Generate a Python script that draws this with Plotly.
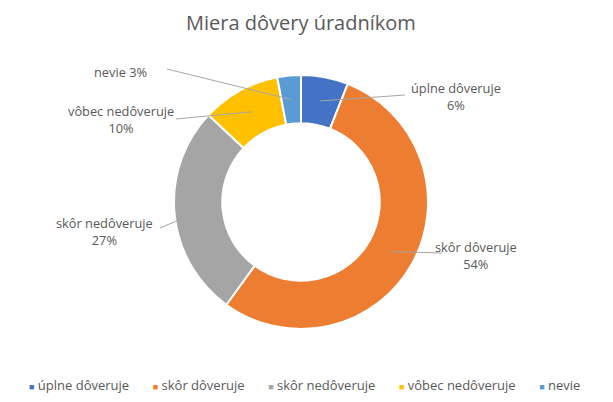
import math
import plotly.graph_objects as go

# ---- data ----
categories = ["úplne dôveruje", "skôr dôveruje", "skôr nedôveruje", "vôbec nedôveruje", "nevie"]
values = [6, 54, 27, 10, 3]
colors = ["#4472C4", "#ED7D31", "#A5A5A5", "#FFC000", "#5B9BD5"]
title_text = "Miera dôvery úradníkom"

# ---- layout constants (screen pixels; page body has an 8px margin) ----
OFF = 8
W, H = 613 - 2 * OFF, 402 - 2 * OFF
CX, CY, R_OUT = 301, 202, 127
HOLE = 0.62
R_MID = R_OUT * (1 + HOLE) / 2
FONT = "Open Sans, Calibri, sans-serif"
TXT = "#595959"
LINE = "#A6A6A6"
# label text centre (px) and leader-line start point (px), per category
label_pos = [(456, 96), (476, 255), (104, 232), (121, 120), (120, 72)]
label_anchor = [(405, 95), (442, 253), (160, 228), (176, 119), (167, 69)]
label_single_line = [False, False, False, False, True]


def px(x):
    return (x - OFF) / W


def py(y):
    return 1 - (y - OFF) / H


fig = go.Figure(
    go.Pie(
        labels=categories,
        values=values,
        hole=HOLE,
        sort=False,
        direction="clockwise",
        rotation=0,
        textinfo="none",
        hoverinfo="label+percent",
        marker=dict(colors=colors, line=dict(color="white", width=2)),
        domain=dict(
            x=[px(CX - R_OUT), px(CX + R_OUT)],
            y=[py(CY + R_OUT), py(CY - R_OUT)],
        ),
        showlegend=False,
    )
)

total = sum(values)
annotations = []
shapes = []
cum = 0
for i, (cat, v) in enumerate(zip(categories, values)):
    theta = 2 * math.pi * (cum + v / 2) / total
    cum += v
    ax_px = CX + R_MID * math.sin(theta)
    ay_px = CY - R_MID * math.cos(theta)
    sx, sy = label_anchor[i]
    shapes.append(
        dict(
            type="line", xref="paper", yref="paper",
            x0=px(sx), y0=py(sy), x1=px(ax_px), y1=py(ay_px),
            line=dict(color=LINE, width=1),
        )
    )
    pct = f"{round(100 * v / total)}%"
    text = f"{cat} {pct}" if label_single_line[i] else f"{cat}<br>{pct}"
    lx, ly = label_pos[i]
    annotations.append(
        dict(
            x=px(lx), y=py(ly), xref="paper", yref="paper",
            text=text, showarrow=False, xanchor="center", yanchor="middle",
            align="center", font=dict(family=FONT, size=12.8, color=TXT),
        )
    )

# custom legend (small square markers as in the original)
gap = "\u00a0" * 7
legend_text = gap.join(
    f"<span style='color:{c};font-size:9px'>■</span>\u00a0{cat}" for cat, c in zip(categories, colors)
)
annotations.append(
    dict(
        x=px(304), y=py(385), xref="paper", yref="paper", text=legend_text,
        showarrow=False, xanchor="center", yanchor="middle",
        font=dict(family=FONT, size=13, color=TXT),
    )
)

annotations.append(
    dict(
        x=px(301), y=py(22), xref="paper", yref="paper", text=title_text,
        showarrow=False, xanchor="center", yanchor="middle",
        font=dict(family=FONT, size=20, color=TXT),
    )
)

fig.update_layout(
    width=W, height=H,
    margin=dict(l=0, r=0, t=0, b=0),
    paper_bgcolor="white", plot_bgcolor="white",
    annotations=annotations, shapes=shapes,
)

fig.write_html("out.html")
